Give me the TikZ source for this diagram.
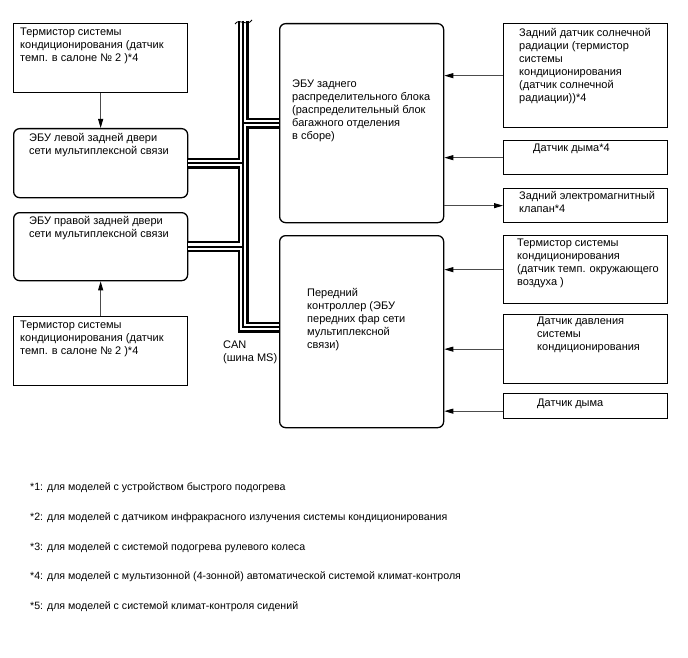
\documentclass[tikz,border=0pt]{standalone}
\usepackage{fontspec}
\setmainfont{Liberation Sans}
\usetikzlibrary{arrows.meta}

\begin{document}
\begin{tikzpicture}[
        x=1pt, y=-1pt,
        font=\fontsize{11}{13}\selectfont,
        sensor/.style={draw, line width=1.3pt, anchor=north west, inner sep=0pt},
        ecu/.style={draw, line width=1.3pt, rounded corners=6pt, anchor=north west, inner sep=0pt},
        caption/.style={anchor=north west, align=left, inner sep=0pt, yshift=-2pt},
        signal/.style={draw=black!70, line width=0.9pt, -{Triangle[length=9pt, width=5pt, color=black]}},
        bus/.style={preaction={draw, black, line width=11pt},
            preaction={draw, white, line width=6.5pt}, draw, line width=2pt}
    ]
        \useasboundingbox (0,0) rectangle (688,658);

        % left column
        \node[sensor, minimum width=174pt, minimum height=69pt] (thermoTop) at (13,23) {};
        \node[ecu, minimum width=174pt, minimum height=69pt] (doorLeft) at (13,128) {};
        \node[ecu, minimum width=174pt, minimum height=68pt] (doorRight) at (13,212) {};
        \node[sensor, minimum width=174pt, minimum height=69pt] (thermoBottom) at (13,316) {};

        \node[caption] (thermoTopText) at (20,26)
            {Термистор системы\\кондиционирования (датчик\\темп. в салоне № 2 )*4};
        \node[caption] (doorLeftText) at (29,131)
            {ЭБУ левой задней двери\\сети мультиплексной связи};
        \node[caption] (doorRightText) at (29,214)
            {ЭБУ правой задней двери\\сети мультиплексной связи};
        \node[caption] (thermoBottomText) at (20,319)
            {Термистор системы\\кондиционирования (датчик\\темп. в салоне № 2 )*4};

        % middle column
        \node[ecu, minimum width=164pt, minimum height=199pt] (rear) at (279,23) {};
        \node[ecu, minimum width=164pt, minimum height=192pt] (front) at (279,235) {};

        \node[caption] (rearText) at (292,78)
            {ЭБУ заднего\\распределительного блока\\(распределительный блок\\багажного отделения\\в сборе)};
        \node[caption] (frontText) at (307,286)
            {Передний\\контроллер (ЭБУ\\передних фар сети\\мультиплексной\\связи)};

        % right column
        \node[sensor, minimum width=164pt, minimum height=104pt] (solar) at (503,23) {};
        \node[sensor, minimum width=164pt, minimum height=34pt] (smokeRear) at (503,140) {};
        \node[sensor, minimum width=164pt, minimum height=34pt] (valve) at (503,188) {};
        \node[sensor, minimum width=164pt, minimum height=68pt] (ambient) at (503,235) {};
        \node[sensor, minimum width=164pt, minimum height=69pt] (pressure) at (503,314) {};
        \node[sensor, minimum width=164pt, minimum height=25pt] (smokeFront) at (503,393) {};

        \node[caption] (solarText) at (519,26)
            {Задний датчик солнечной\\радиации (термистор\\системы\\кондиционирования\\(датчик солнечной\\радиации))*4};
        \node[caption] (smokeRearText) at (533,142) {Датчик дыма*4};
        \node[caption] (valveText) at (519,189)
            {Задний электромагнитный\\клапан*4};
        \node[caption] (ambientText) at (517,237)
            {Термистор системы\\кондиционирования\\(датчик темп. окружающего\\воздуха )};
        \node[caption] (pressureText) at (537,315)
            {Датчик давления\\системы\\кондиционирования};
        \node[caption] (smokeFrontText) at (537,397) {Датчик дыма};

        % CAN bus
        \coordinate (busTop) at (243,21);
        \coordinate (busBend) at (243,327);
        \path[bus] (busTop) |- (front.west |- busBend)
            (rear.west) -- (rear.west -| busTop)
            (doorLeft.east) -- (doorLeft.east -| busTop)
            (doorRight.east) -- (doorRight.east -| busTop);
        \draw[line width=0.8pt] (235,24) .. controls (240,17) and (246,28) .. (252,20);
        \node[caption] (canText) at (223,339) {CAN\\(шина MS)};

        \draw[signal] (thermoTop) -- (doorLeft);
        \draw[signal] (thermoBottom) -- (doorRight);
        \draw[signal] (solar.west) -- (solar.west -| rear.east);
        \draw[signal] (smokeRear.west) -- (smokeRear.west -| rear.east);
        \draw[signal] (valve.west -| rear.east) -- (valve.west);
        \draw[signal] (ambient.west) -- (ambient.west -| front.east);
        \draw[signal] (pressure.west) -- (pressure.west -| front.east);
        \draw[signal] ([yshift=-5pt]smokeFront.west) -- ([yshift=-5pt]smokeFront.west -| front.east);

        % footnotes
        \foreach \n/\ypos/\note in {
            1/488/{для моделей с устройством быстрого подогрева},
            2/518/{для моделей с датчиком инфракрасного излучения системы кондиционирования},
            3/548/{для моделей с системой подогрева рулевого колеса},
            4/577/{для моделей с мультизонной (4-зонной) автоматической системой климат-контроля},
            5/607/{для моделей с системой климат-контроля сидений}} {
            \node[anchor=west, inner sep=0pt, font=\fontsize{10.6}{13}\selectfont]
                (note\n) at (30,\ypos) {*\n: \note};
        }
    \end{tikzpicture}
\end{document}
